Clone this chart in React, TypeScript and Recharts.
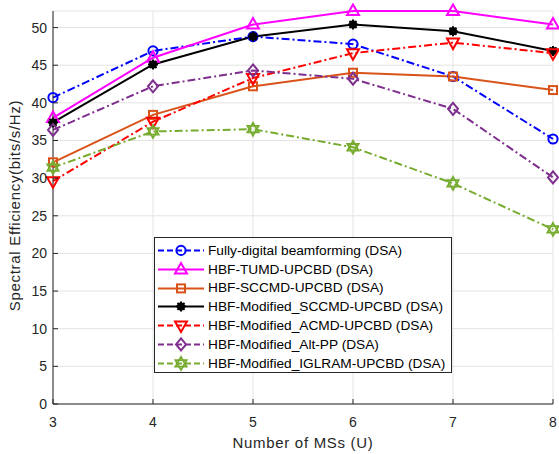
import React from "react";
import {
  LineChart,
  Line,
  XAxis,
  YAxis,
  CartesianGrid,
  Legend,
  Label,
} from "recharts";

const xValues = [3, 4, 5, 6, 7, 8];
const yTicks = [0, 5, 10, 15, 20, 25, 30, 35, 40, 45, 50];

const fullyDigital = [40.7, 46.9, 48.8, 47.8, 43.5, 35.2];
const tumd = [38.0, 46.0, 50.4, 52.2, 52.2, 50.4];
const sccmd = [32.1, 38.4, 42.2, 44.0, 43.5, 41.7];
const modSccmd = [37.4, 45.1, 48.8, 50.4, 49.5, 46.9];
const modAcmd = [29.6, 37.5, 43.3, 46.6, 48.0, 46.6];
const modAltPP = [36.4, 42.2, 44.3, 43.2, 39.2, 30.1];
const modIglram = [31.4, 36.2, 36.5, 34.1, 29.3, 23.2];

const FONT = '"Liberation Sans", Arial, sans-serif';
const AXIS = "#262626";
const DASHDOT = "8 3 2 3";

type Marker = "circle" | "triUp" | "square" | "asterisk" | "triDown" | "diamond" | "hexagram";

const SERIES: { key: string; name: string; color: string; dash?: string; marker: Marker; values: number[] }[] = [
  { key: "fd", name: "Fully-digital beamforming (DSA)", color: "#0000ff", dash: DASHDOT, marker: "circle", values: fullyDigital },
  { key: "tumd", name: "HBF-TUMD-UPCBD (DSA)", color: "#ff00ff", marker: "triUp", values: tumd },
  { key: "sccmd", name: "HBF-SCCMD-UPCBD (DSA)", color: "#d95319", marker: "square", values: sccmd },
  { key: "msccmd", name: "HBF-Modified_SCCMD-UPCBD (DSA)", color: "#000000", marker: "asterisk", values: modSccmd },
  { key: "macmd", name: "HBF-Modified_ACMD-UPCBD (DSA)", color: "#ff0000", dash: DASHDOT, marker: "triDown", values: modAcmd },
  { key: "malt", name: "HBF-Modified_Alt-PP (DSA)", color: "#7e2f8e", dash: DASHDOT, marker: "diamond", values: modAltPP },
  { key: "migl", name: "HBF-Modified_IGLRAM-UPCBD (DSA)", color: "#77ac30", dash: DASHDOT, marker: "hexagram", values: modIglram },
];

const data = xValues.map((x, i) => {
  const row: Record<string, number> = { x };
  SERIES.forEach((s) => (row[s.key] = s.values[i]));
  return row;
});

function markerShape(m: Marker, cx: number, cy: number, color: string) {
  const common = { fill: "none", stroke: color, strokeWidth: 2 };
  switch (m) {
    case "circle":
      return <circle cx={cx} cy={cy} r={4.6} {...common} />;
    case "triUp":
      return <polygon points={`${cx},${cy - 6.5} ${cx - 6},${cy + 4} ${cx + 6},${cy + 4}`} {...common} />;
    case "triDown":
      return <polygon points={`${cx},${cy + 6.5} ${cx - 6},${cy - 4} ${cx + 6},${cy - 4}`} {...common} />;
    case "square":
      return <rect x={cx - 4} y={cy - 4} width={8} height={8} {...common} />;
    case "diamond":
      return <polygon points={`${cx},${cy - 6} ${cx + 5},${cy} ${cx},${cy + 6} ${cx - 5},${cy}`} {...common} />;
    case "asterisk":
      return (
        <g stroke={color} strokeWidth={2}>
          <circle cx={cx} cy={cy} r={3} fill={color} />
          <line x1={cx - 5} y1={cy} x2={cx + 5} y2={cy} />
          <line x1={cx} y1={cy - 5} x2={cx} y2={cy + 5} />
          <line x1={cx - 3.5} y1={cy - 3.5} x2={cx + 3.5} y2={cy + 3.5} />
          <line x1={cx - 3.5} y1={cy + 3.5} x2={cx + 3.5} y2={cy - 3.5} />
        </g>
      );
    case "hexagram": {
      const r = 6.5;
      const tri = (off: number) =>
        [0, 1, 2]
          .map((k) => {
            const a = off + (k * 2 * Math.PI) / 3;
            return `${cx + r * Math.sin(a)},${cy - r * Math.cos(a)}`;
          })
          .join(" ");
      return (
        <g {...common} strokeWidth={1.8}>
          <polygon points={tri(0)} />
          <polygon points={tri(Math.PI)} />
        </g>
      );
    }
  }
}

const makeDot = (m: Marker, color: string, key: string) => (props: any) => {
  const { cx, cy, index } = props;
  return <g key={`${key}-${index}`}>{markerShape(m, cx, cy, color)}</g>;
};

const BottomTick = (props: any) => {
  const { x, y, payload } = props;
  return (
    <g>
      <line x1={x} y1={y} x2={x} y2={y - 5} stroke={AXIS} />
      <text x={x} y={y + 23} textAnchor="middle" fill={AXIS} fontSize={14} fontFamily={FONT}>
        {payload.value}
      </text>
    </g>
  );
};

const LeftTick = (props: any) => {
  const { x, y, payload } = props;
  return (
    <g>
      <line x1={x} y1={y} x2={x + 5} y2={y} stroke={AXIS} />
      <text x={x - 6} y={y + 5} textAnchor="end" fill={AXIS} fontSize={14} fontFamily={FONT}>
        {payload.value}
      </text>
    </g>
  );
};

const TopTick = (props: any) => {
  const { x, y } = props;
  return <line x1={x} y1={y} x2={x} y2={y + 5} stroke={AXIS} />;
};

const RightTick = (props: any) => {
  const { x, y } = props;
  return <line x1={x} y1={y} x2={x - 5} y2={y} stroke={AXIS} />;
};

const LegendBox = () => (
  <div
    style={{
      border: `1px solid ${AXIS}`,
      background: "#fff",
      paddingTop: 3,
      boxSizing: "border-box",
      width: 298,
      height: 136,
      fontFamily: FONT,
      fontSize: 13.7,
      color: "#000",
    }}
  >
    {SERIES.map((s) => (
      <div key={s.key} style={{ display: "flex", alignItems: "center", height: 18.8, whiteSpace: "nowrap" }}>
        <svg width={53} height={18.8} style={{ flex: "none" }}>
          <line x1={3} y1={9.4} x2={49} y2={9.4} stroke={s.color} strokeWidth={2} strokeDasharray={s.dash ? "6 3" : undefined} />
          {markerShape(s.marker, 26, 9.4, s.color)}
        </svg>
        <span>{s.name}</span>
      </div>
    ))}
  </div>
);

export default function App() {
  return (
    <div style={{ position: "absolute", left: 0, top: 0, background: "#fff" }}>
      <LineChart width={559} height={454} data={data} margin={{ top: 11, right: 6, bottom: 0, left: 0 }}>
        <CartesianGrid stroke="#e3e3e3" strokeWidth={1} />
        <XAxis
          dataKey="x"
          type="number"
          domain={[3, 8]}
          ticks={xValues}
          height={50}
          tickSize={0}
          tickMargin={0}
          tickLine={false}
          axisLine={{ stroke: AXIS }}
          tick={<BottomTick />}
          interval={0}
        >
          <Label
            content={(p: any) => {
              const vb = p.viewBox;
              return (
                <text
                  x={vb.x + vb.width / 2}
                  y={vb.y + 44}
                  textAnchor="middle"
                  fill={AXIS}
                  fontSize={15}
                  letterSpacing={0.7}
                  fontFamily={FONT}
                >
                  Number of MSs (U)
                </text>
              );
            }}
          />
        </XAxis>
        <XAxis
          xAxisId="top"
          orientation="top"
          type="number"
          domain={[3, 8]}
          ticks={xValues}
          height={0}
          tickSize={0}
          tickMargin={0}
          tickLine={false}
          axisLine={{ stroke: AXIS }}
          tick={<TopTick />}
          interval={0}
        />
        <YAxis
          type="number"
          domain={[0, 52.2]}
          ticks={yTicks}
          width={53}
          tickSize={0}
          tickMargin={0}
          tickLine={false}
          axisLine={{ stroke: AXIS }}
          tick={<LeftTick />}
          interval={0}
        >
          <Label
            content={(p: any) => {
              const vb = p.viewBox;
              const cx = 20;
              const cy = vb.y + vb.height / 2 - 2;
              return (
                <text
                  x={cx}
                  y={cy}
                  transform={`rotate(-90 ${cx} ${cy})`}
                  textAnchor="middle"
                  fill={AXIS}
                  fontSize={15}
                  letterSpacing={0.7}
                  fontFamily={FONT}
                >
                  Spectral Efficiency(bits/s/Hz)
                </text>
              );
            }}
          />
        </YAxis>
        <YAxis
          yAxisId="right"
          orientation="right"
          type="number"
          domain={[0, 52.2]}
          ticks={yTicks}
          width={0}
          tickSize={0}
          tickMargin={0}
          tickLine={false}
          axisLine={{ stroke: AXIS }}
          tick={<RightTick />}
          interval={0}
        />
        {SERIES.map((s) => (
          <Line
            key={s.key}
            dataKey={s.key}
            name={s.name}
            stroke={s.color}
            strokeWidth={2}
            strokeDasharray={s.dash}
            dot={makeDot(s.marker, s.color, s.key)}
            activeDot={false}
            isAnimationActive={false}
          />
        ))}
        <Legend
          layout="horizontal"
          align="center"
          verticalAlign="middle"
          content={() => <LegendBox />}
          wrapperStyle={{ left: 154, top: 237, bottom: "auto", right: "auto", width: 298, height: 136 }}
        />
      </LineChart>
    </div>
  );
}
